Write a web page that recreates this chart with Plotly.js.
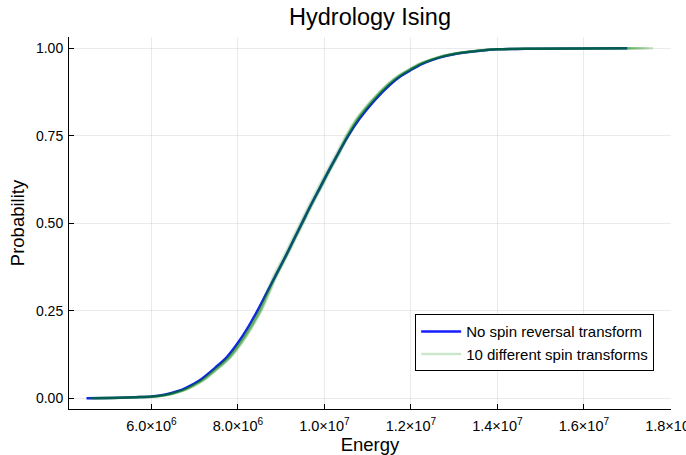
<!DOCTYPE html>
<html>
<head>
<meta charset="utf-8">
<script src="https://cdn.plot.ly/plotly-3.0.1.min.js"></script>
<style>html,body{margin:0;padding:0;background:#fff;}#chart{width:686px;height:455px;}</style>
</head>
<body>
<div id="chart"></div>
<script>
// Cumulative probability levels (shared by all curves)
const probLevels = [0, 0.001, 0.003, 0.005, 0.01, 0.02, 0.03, 0.05, 0.09, 0.12, 0.16, 0.2, 0.25, 0.3, 0.35, 0.4, 0.45, 0.5, 0.55, 0.6, 0.65, 0.7, 0.75, 0.8, 0.85, 0.895, 0.92, 0.938, 0.955, 0.967, 0.978, 0.987, 0.993, 0.997, 0.999, 1];

// Energies (in millions) at each probability level
const noSpinReversal = [4.50, 5.00, 5.60, 6.00, 6.30, 6.60, 6.80, 7.10, 7.50, 7.76, 8.01, 8.22, 8.45, 8.66, 8.87, 9.08, 9.28, 9.48, 9.68, 9.89, 10.10, 10.32, 10.55, 10.82, 11.15, 11.51, 11.76, 12.00, 12.25, 12.50, 12.80, 13.20, 13.60, 14.00, 14.80, 17.00];

const spinTransform1  = [4.60, 5.06, 5.66, 6.06, 6.36, 6.66, 6.86, 7.16, 7.56, 7.82, 8.07, 8.28, 8.51, 8.69, 8.87, 9.08, 9.28, 9.48, 9.68, 9.89, 10.10, 10.32, 10.52, 10.77, 11.10, 11.46, 11.71, 11.95, 12.20, 12.45, 12.75, 13.15, 13.55, 13.95, 14.75, 17.60];
const spinTransform2  = [4.70, 5.10, 5.70, 6.10, 6.40, 6.70, 6.90, 7.20, 7.60, 7.86, 8.11, 8.32, 8.55, 8.73, 8.90, 9.11, 9.31, 9.51, 9.71, 9.92, 10.13, 10.35, 10.56, 10.80, 11.13, 11.49, 11.74, 11.98, 12.23, 12.48, 12.78, 13.18, 13.58, 13.98, 14.78, 17.20];
const spinTransform3  = [4.55, 5.03, 5.63, 6.03, 6.33, 6.63, 6.83, 7.13, 7.53, 7.79, 8.04, 8.25, 8.48, 8.65, 8.82, 9.03, 9.23, 9.43, 9.63, 9.84, 10.05, 10.27, 10.49, 10.74, 11.07, 11.43, 11.68, 11.92, 12.17, 12.42, 12.72, 13.12, 13.52, 13.92, 14.72, 16.90];
const spinTransform4  = [4.65, 5.08, 5.68, 6.08, 6.38, 6.68, 6.88, 7.18, 7.58, 7.84, 8.09, 8.30, 8.53, 8.71, 8.89, 9.10, 9.30, 9.50, 9.70, 9.91, 10.12, 10.34, 10.55, 10.79, 11.12, 11.48, 11.73, 11.97, 12.22, 12.47, 12.77, 13.17, 13.57, 13.97, 14.80, 17.40];
const spinTransform5  = [4.58, 5.05, 5.65, 6.05, 6.35, 6.65, 6.85, 7.15, 7.55, 7.81, 8.06, 8.27, 8.50, 8.67, 8.84, 9.05, 9.25, 9.45, 9.65, 9.86, 10.07, 10.29, 10.50, 10.76, 11.09, 11.45, 11.70, 11.94, 12.19, 12.44, 12.74, 13.14, 13.54, 13.94, 14.70, 16.80];
const spinTransform6  = [4.62, 5.07, 5.67, 6.07, 6.37, 6.67, 6.87, 7.17, 7.57, 7.83, 8.08, 8.29, 8.52, 8.70, 8.88, 9.09, 9.29, 9.49, 9.69, 9.90, 10.11, 10.33, 10.53, 10.78, 11.11, 11.47, 11.72, 11.96, 12.21, 12.46, 12.76, 13.16, 13.56, 13.96, 14.85, 17.10];
const spinTransform7  = [4.52, 5.02, 5.62, 6.02, 6.32, 6.62, 6.82, 7.12, 7.52, 7.78, 8.03, 8.24, 8.47, 8.67, 8.87, 9.08, 9.28, 9.48, 9.68, 9.89, 10.10, 10.32, 10.54, 10.79, 11.12, 11.48, 11.73, 11.97, 12.22, 12.47, 12.77, 13.17, 13.57, 13.97, 14.78, 17.50];
const spinTransform8  = [4.68, 5.09, 5.69, 6.09, 6.39, 6.69, 6.89, 7.19, 7.59, 7.85, 8.10, 8.31, 8.54, 8.72, 8.90, 9.11, 9.31, 9.51, 9.71, 9.92, 10.13, 10.35, 10.56, 10.81, 11.14, 11.50, 11.75, 11.99, 12.24, 12.49, 12.79, 13.19, 13.59, 13.99, 14.82, 17.30];
const spinTransform9  = [4.56, 5.04, 5.64, 6.04, 6.34, 6.64, 6.84, 7.14, 7.54, 7.80, 8.05, 8.26, 8.49, 8.68, 8.88, 9.09, 9.29, 9.49, 9.69, 9.90, 10.11, 10.33, 10.54, 10.79, 11.12, 11.48, 11.73, 11.97, 12.22, 12.47, 12.77, 13.17, 13.57, 13.97, 14.76, 17.00];
const spinTransform10 = [4.64, 5.06, 5.66, 6.06, 6.36, 6.66, 6.86, 7.16, 7.56, 7.82, 8.07, 8.28, 8.51, 8.68, 8.85, 9.06, 9.26, 9.46, 9.66, 9.87, 10.08, 10.30, 10.52, 10.77, 11.10, 11.46, 11.71, 11.95, 12.20, 12.45, 12.75, 13.15, 13.55, 13.95, 14.74, 17.05];

const spinTransforms = [spinTransform1, spinTransform2, spinTransform3, spinTransform4, spinTransform5,
                        spinTransform6, spinTransform7, spinTransform8, spinTransform9, spinTransform10];

const xTickValues = [6e6, 8e6, 1e7, 1.2e7, 1.4e7, 1.6e7, 1.8e7];
const xTickLabels = ['6.0×10<sup>6</sup>', '8.0×10<sup>6</sup>', '1.0×10<sup>7</sup>', '1.2×10<sup>7</sup>', '1.4×10<sup>7</sup>', '1.6×10<sup>7</sup>', '1.8×10<sup>7</sup>'];
const yTickValues = [0, 0.25, 0.5, 0.75, 1.0];
const yTickLabels = ['0.00', '0.25', '0.50', '0.75', '1.00'];

const MILLION = 1e6;
const toEnergy = arr => arr.map(v => v * MILLION);

const traces = [{
  x: toEnergy(noSpinReversal), y: probLevels, type: 'scatter', mode: 'lines',
  name: 'No spin reversal transform',
  line: {color: 'rgb(20,30,255)', width: 2.5, shape: 'spline', smoothing: 1}
}];
spinTransforms.forEach((arr, i) => {
  traces.push({
    x: toEnergy(arr), y: probLevels, type: 'scatter', mode: 'lines',
    name: '10 different spin transforms', legendgroup: 'spin',
    showlegend: i === 0,
    line: {color: i === 0 ? 'rgba(0,128,0,0.2)' : 'rgba(0,128,0,0.1)', width: 2.5, shape: 'spline', smoothing: 1}
  });
});

const font = {family: 'Liberation Sans, Arial, sans-serif', color: '#000'};

const layout = {
  width: 686, height: 455,
  margin: {l: 69, r: 15, t: 37, b: 46, pad: 0},
  paper_bgcolor: '#fff', plot_bgcolor: '#fff',
  font: Object.assign({size: 14}, font),
  title: {text: 'Hydrology Ising', font: Object.assign({size: 23.5}, font),
          x: 0.5, xref: 'paper', xanchor: 'center', y: 0.963, yref: 'container', yanchor: 'middle'},
  xaxis: {
    range: [4.095e6, 1.8014e7], tickvals: xTickValues, ticktext: xTickLabels,
    ticks: 'inside', ticklen: 5, tickcolor: '#000', tickwidth: 1,
    showline: true, linecolor: '#000', linewidth: 1, mirror: false,
    showgrid: true, gridcolor: 'rgba(0,0,0,0.1)', gridwidth: 0.8, zeroline: false,
    tickfont: Object.assign({size: 14.5}, font), ticklabeloverflow: 'allow', ticklabelstandoff: 4,
    title: {text: 'Energy', font: Object.assign({size: 18.5}, font), standoff: 0},
    automargin: false
  },
  yaxis: {
    range: [-0.0306, 1.0323], tickvals: yTickValues, ticktext: yTickLabels,
    ticks: 'inside', ticklen: 5, tickcolor: '#000', tickwidth: 1,
    showline: true, linecolor: '#000', linewidth: 1, mirror: false,
    showgrid: true, gridcolor: 'rgba(0,0,0,0.1)', gridwidth: 0.8, zeroline: false,
    tickfont: Object.assign({size: 14}, font), ticklabelstandoff: 2,
    title: {text: 'Probability', font: Object.assign({size: 18.5}, font), standoff: 6},
    automargin: false
  },
  legend: {
    x: 0.575, y: 0.255, xanchor: 'left', yanchor: 'top',
    bgcolor: '#fff', bordercolor: '#000', borderwidth: 1,
    font: Object.assign({size: 15}, font), itemwidth: 40,
    tracegroupgap: 0
  },
  showlegend: true
};

Plotly.newPlot('chart', traces, layout, {staticPlot: true, displayModeBar: false});
</script>
</body>
</html>
